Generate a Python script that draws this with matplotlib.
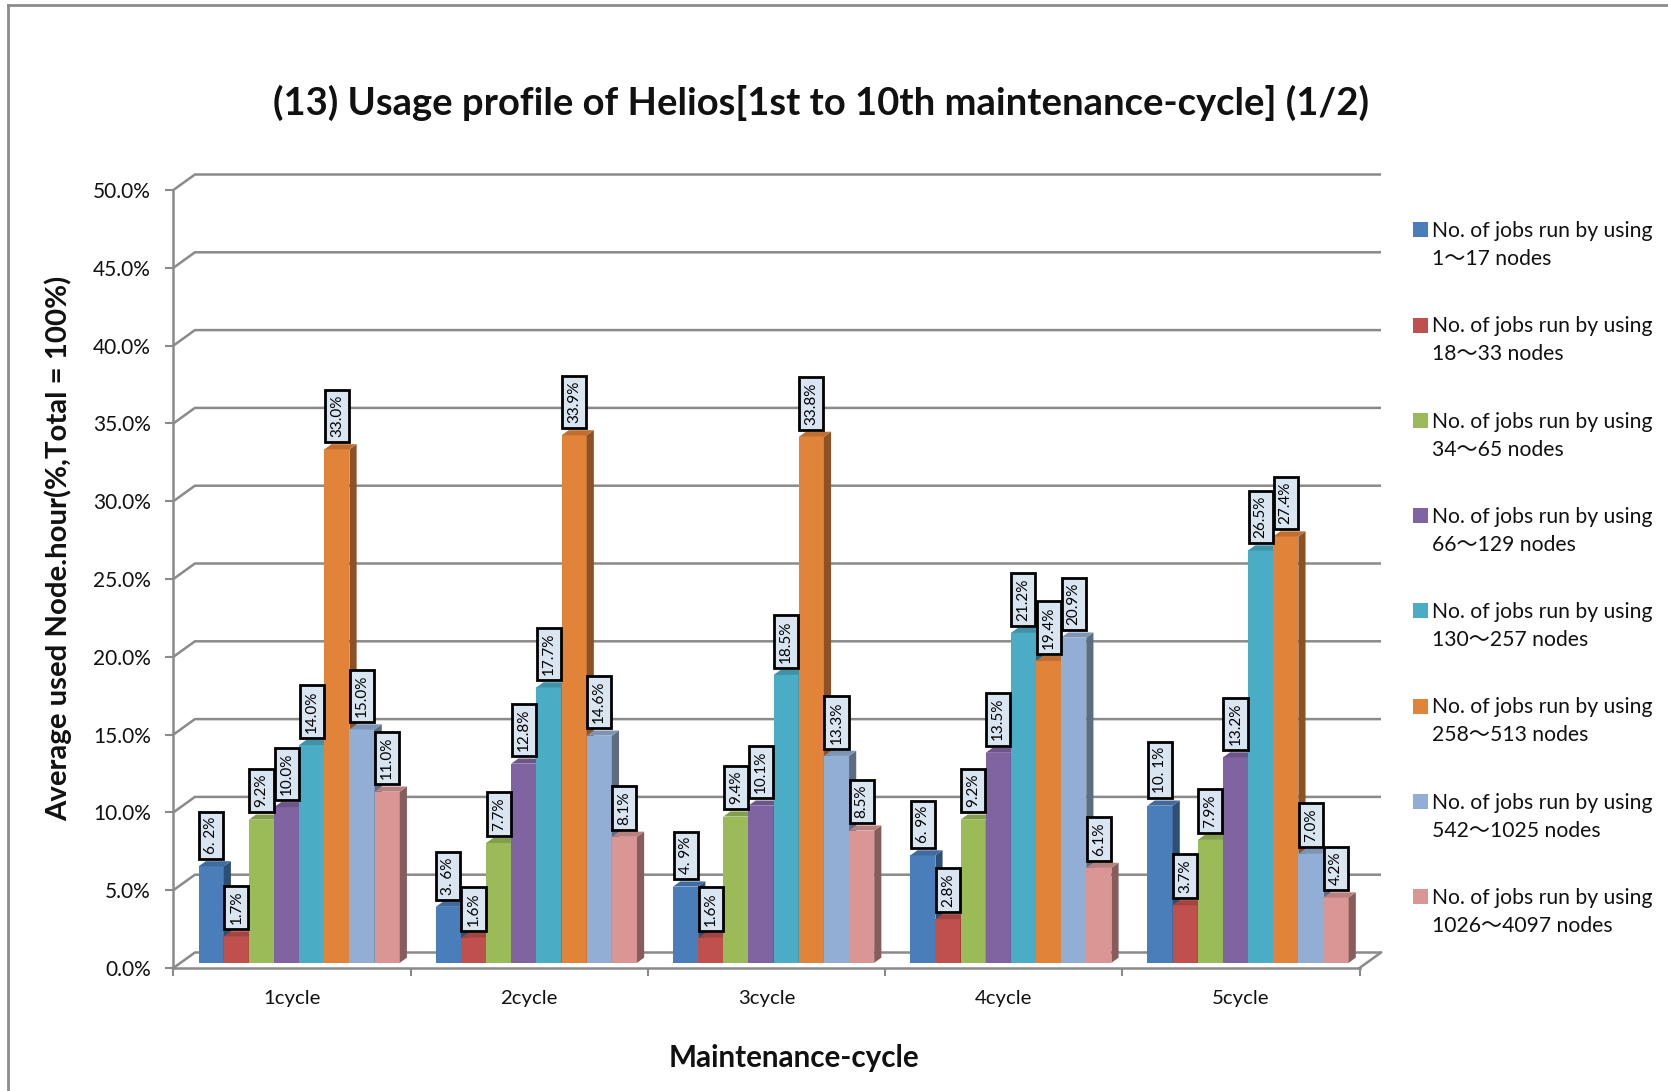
import matplotlib
matplotlib.use("Agg")
import matplotlib.pyplot as plt
from matplotlib.patches import Polygon, Rectangle, Patch
from matplotlib.legend_handler import HandlerPatch
from matplotlib.lines import Line2D
import numpy as np

# ---- data -------------------------------------------------------------
cycles = ["1cycle", "2cycle", "3cycle", "4cycle", "5cycle"]
series_names = [
    "No. of jobs run by using\n1～17 nodes",
    "No. of jobs run by using\n18～33 nodes",
    "No. of jobs run by using\n34～65 nodes",
    "No. of jobs run by using\n66～129 nodes",
    "No. of jobs run by using\n130～257 nodes",
    "No. of jobs run by using\n258～513 nodes",
    "No. of jobs run by using\n542～1025 nodes",
    "No. of jobs run by using\n1026～4097 nodes",
]
nodes_1_17 = [6.2, 3.6, 4.9, 6.9, 10.1]
nodes_18_33 = [1.7, 1.6, 1.6, 2.8, 3.7]
nodes_34_65 = [9.2, 7.7, 9.4, 9.2, 7.9]
nodes_66_129 = [10.0, 12.8, 10.1, 13.5, 13.2]
nodes_130_257 = [14.0, 17.7, 18.5, 21.2, 26.5]
nodes_258_513 = [33.0, 33.9, 33.8, 19.4, 27.4]
nodes_542_1025 = [15.0, 14.6, 13.3, 20.9, 7.0]
nodes_1026_4097 = [11.0, 8.1, 8.5, 6.1, 4.2]
series_values = [nodes_1_17, nodes_18_33, nodes_34_65, nodes_66_129,
                 nodes_130_257, nodes_258_513, nodes_542_1025, nodes_1026_4097]
y_ticks = [0, 5, 10, 15, 20, 25, 30, 35, 40, 45, 50]

colors = ["#4A7EBB", "#C0504D", "#9BBB59", "#8064A2",
          "#4BACC6", "#E2833A", "#93AED4", "#D99694"]

FONT = ["Lato", "Noto Sans CJK JP", "DejaVu Sans"]
plt.rcParams["font.family"] = FONT

# ---- figure & axes geometry (pixels) -----------------------------------
W, H = 1668, 1091
fig = plt.figure(figsize=(W / 100, H / 100), dpi=100)
fig.patch.set_facecolor("white")

x0px, x5px = 173.4, 1359.5      # front plane, category 0 .. 5
y0px, y50px = 968.0, 190.0      # front plane, 0 % .. 50 %
dxpx, dypx = 21.5, 15.5         # depth offset of the back wall
ux = (x5px - x0px) / 5
uy = (y0px - y50px) / 50
DX, DY = dxpx / ux, dypx / uy

ax = fig.add_axes([x0px / W, (H - y0px) / H,
                   (x5px - x0px + dxpx) / W, (y0px - y50px + dypx) / H])
ax.set_xlim(0, 5 + DX)
ax.set_ylim(0, 50 + DY)
ax.set_facecolor("none")

grid_c = "#8a8a8a"
for s in ["top", "right"]:
    ax.spines[s].set_visible(False)
ax.spines["left"].set_bounds(0, 50)
ax.spines["bottom"].set_bounds(0, 5)
for s in ["left", "bottom"]:
    ax.spines[s].set_color(grid_c)
    ax.spines[s].set_linewidth(1.8)

ax.set_yticks(y_ticks)
ax.set_yticklabels([f"{t:.1f}%" for t in y_ticks])
ax.tick_params(axis="y", direction="out", length=8 * 0.72, width=1.5,
               color=grid_c, pad=10.5, labelsize=15, labelcolor="#111111")
ax.set_xticks(range(6))
ax.set_xticks(np.arange(5) + 0.5, minor=True)
ax.set_xticklabels([])
ax.set_xticklabels(cycles, minor=True)
ax.tick_params(axis="x", which="major", direction="out", length=8 * 0.72,
               width=1.5, color=grid_c)
ax.tick_params(axis="x", which="minor", length=0, pad=16, labelsize=14.6,
               labelcolor="#111111")

# back-wall gridlines with the diagonal joining the front axis
for t in y_ticks:
    ax.plot([0, DX, 5 + DX], [t, t + DY, t + DY], color=grid_c, lw=1.8,
            zorder=1, clip_on=False, solid_capstyle="butt")
# floor outline
ax.plot([5, 5 + DX], [0, DY], color=grid_c, lw=1.8, zorder=1, clip_on=False)


def shade(c, f):
    r, g, b = matplotlib.colors.to_rgb(c)
    return (r * f, g * f, b * f)


# ---- 3-D looking columns ----------------------------------------------
w = 0.106
f_front = 1 / 3   # bars sit in the middle third of the floor depth
f_depth = 1 / 3
n = len(series_values)
z = 3
for i in range(len(cycles)):
    for j, vals in enumerate(series_values):
        v = vals[i]
        xl = i + 0.5 + (j - n / 2) * w + DX * f_front
        yb = DY * f_front
        ax.bar(xl, v, width=w, bottom=yb, align="edge", color=colors[j],
               edgecolor="none", zorder=z, clip_on=False)
        xr = xl + w
        yt = yb + v
        ddx, ddy = DX * f_depth, DY * f_depth
        ax.add_patch(Polygon([(xr, yb), (xr + ddx, yb + ddy),
                              (xr + ddx, yt + ddy), (xr, yt)],
                             closed=True, facecolor=shade(colors[j], 0.62),
                             edgecolor="none", zorder=z, clip_on=False))
        ax.add_patch(Polygon([(xl, yt), (xr, yt), (xr + ddx, yt + ddy),
                              (xl + ddx, yt + ddy)],
                             closed=True, facecolor=shade(colors[j], 0.85),
                             edgecolor="none", zorder=z, clip_on=False))
        z += 1

# ---- value labels -------------------------------------------------------
lab_fs = 11
lab_pad = 0.33
for i in range(len(cycles)):
    for j, vals in enumerate(series_values):
        v = vals[i]
        xc = i + 0.5 + (j - n / 2 + 0.5) * w + DX * f_front
        ytop = DY * (f_front + f_depth) + v
        txt = f"{v:.1f}%"
        if j == 0:
            txt = txt.replace(".", ". ")
        ax.annotate(txt, xy=(xc, ytop), xytext=(0, lab_fs * lab_pad + 1.5),
                    textcoords="offset points", rotation=90, ha="center",
                    va="bottom", fontsize=lab_fs, color="black",
                    zorder=200 + i * 10 + j, annotation_clip=False,
                    bbox=dict(boxstyle=f"square,pad={lab_pad}",
                              facecolor="#dae5f2", edgecolor="black",
                              linewidth=2.0))

# ---- titles -------------------------------------------------------------
fig.text(821 / W, 1 - 103 / H,
         "(13) Usage profile of Helios[1st to 10th maintenance-cycle] (1/2)",
         ha="center", va="center", fontsize=27.5, fontweight="bold",
         color="#111111")
fig.text(794 / W, 1 - 1058 / H, "Maintenance-cycle", ha="center",
         va="center", fontsize=21.3, fontweight="bold", color="#111111")
fig.text(58 / W, 1 - 548 / H, "Average used Node.hour(%,Total = 100%)",
         ha="center", va="center", rotation=90, fontsize=21.2,
         fontweight="bold", color="#111111")

# ---- legend -------------------------------------------------------------
leg_fs = 15.2


def first_line_box(legend, orig_handle, xdescent, ydescent, width, height,
                   fontsize):
    return Rectangle((-xdescent, -ydescent + 0.75 * fontsize), width, height)


handles = [Patch(facecolor=c, edgecolor="none") for c in colors]
leg = fig.legend(handles, series_names, loc="upper left",
                 bbox_to_anchor=(1413 / W, 1 - 221 / H), frameon=False,
                 fontsize=leg_fs, handlelength=0.72, handleheight=0.72,
                 handletextpad=0.2, labelspacing=2.24, borderpad=0,
                 borderaxespad=0,
                 handler_map={Patch: HandlerPatch(patch_func=first_line_box)})
for t in leg.get_texts():
    t.set_linespacing(1.5)
    t.set_color("#111111")

# ---- outer frame ---------------------------------------------------------
fig.add_artist(Line2D([8 / W, 1.01], [1 - 5 / H, 1 - 5 / H],
                      transform=fig.transFigure, color="#8c8c8c", lw=2))
fig.add_artist(Line2D([8 / W, 8 / W], [1 - 5 / H, -0.01],
                      transform=fig.transFigure, color="#8c8c8c", lw=2))

fig.savefig("out.png", dpi=100, facecolor="white")
